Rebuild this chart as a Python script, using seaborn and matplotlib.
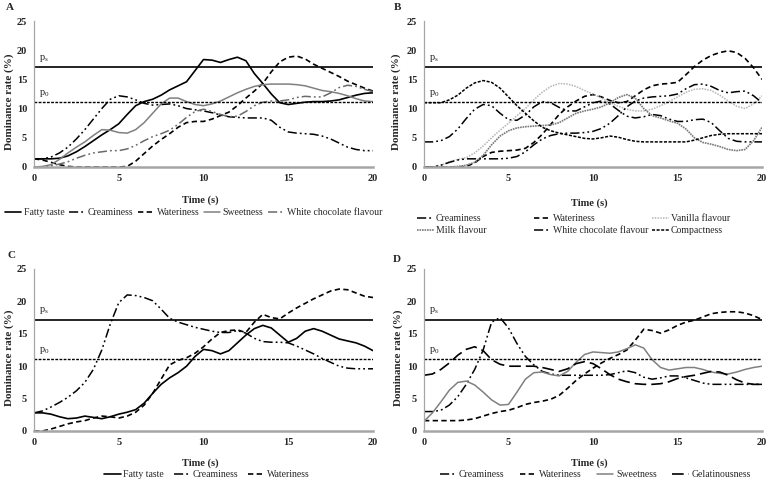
import numpy as np
import pandas as pd
import matplotlib
matplotlib.use("Agg")
import matplotlib.pyplot as plt
import seaborn as sns

# ---------------- data ----------------
TIME = [i * 0.5 for i in range(41)]
X_TICKS = [0, 5, 10, 15, 20]
Y_TICKS = [0, 5, 10, 15, 20, 25]
PS = 17.2
P0 = 11.1

# Panel A
A_FATTY = [1.4, 1.4, 1.4, 1.5, 1.9, 2.6, 3.5, 4.5, 5.5, 6.4, 7.4, 9.0, 10.5, 11.2, 11.6, 12.3, 13.2, 13.9, 14.6, 16.5,
           18.4, 18.3, 17.9, 18.4, 18.8, 18.2, 16.0, 14.3, 12.5, 11.0, 10.7, 10.9, 11.1, 11.2, 11.2, 11.3, 11.5, 11.9, 12.3, 12.6, 12.7]
A_CREAM = [1.4, 1.4, 1.7, 2.4, 3.4, 4.8, 6.4, 8.2, 10.0, 11.6, 12.2, 12.0, 11.5, 10.9, 10.6, 10.7, 10.8, 10.5, 10.0, 9.8,
           9.6, 9.3, 8.9, 8.6, 8.5, 8.4, 8.4, 8.4, 8.0, 6.8, 6.0, 5.8, 5.7, 5.6, 5.3, 4.8, 4.1, 3.4, 3.0, 2.8, 2.8]
A_WATER = [1.4, 1.2, 0.8, 0.4, 0.1, 0.0, 0.0, 0.0, 0.0, 0.0, 0.0, 0.1, 1.0, 2.3, 3.6, 4.7, 5.7, 6.8, 7.6, 7.8,
           7.8, 8.2, 8.8, 9.4, 10.5, 11.8, 13.0, 14.3, 16.3, 18.0, 18.8, 19.0, 18.5, 17.6, 16.9, 16.2, 15.5, 14.7, 14.1, 13.5, 13.0]
A_SWEET = [0.0, 0.1, 0.4, 1.3, 2.4, 3.4, 4.3, 5.4, 6.4, 6.3, 5.9, 5.8, 6.4, 7.6, 9.2, 10.8, 11.8, 11.8, 11.2, 10.7,
           10.5, 10.8, 11.3, 12.0, 12.7, 13.3, 13.8, 14.1, 14.2, 14.2, 14.2, 14.1, 13.9, 13.5, 13.1, 12.9, 12.6, 12.2, 11.7, 11.3, 11.2]
A_WHITECHOC = [0.0, 0.0, 0.2, 0.5, 0.9, 1.5, 2.0, 2.4, 2.6, 2.8, 2.8, 3.1, 3.7, 4.5, 5.2, 5.7, 6.3, 7.3, 8.5, 9.5,
               9.9, 9.5, 9.0, 8.6, 8.7, 9.5, 10.5, 11.1, 11.3, 11.3, 11.5, 11.9, 12.1, 12.0, 12.0, 12.7, 13.6, 14.0, 13.8, 13.3, 12.9]

# Panel B
B_CREAM = [4.3, 4.3, 4.5, 5.2, 6.5, 8.3, 9.9, 10.7, 10.5, 9.2, 8.1, 8.0, 8.9, 10.3, 11.2, 11.0, 10.2, 9.6, 9.6, 10.3,
           11.0, 11.3, 10.8, 9.7, 8.7, 8.4, 8.6, 9.0, 8.8, 8.2, 7.8, 7.8, 8.1, 8.2, 7.6, 6.2, 4.9, 4.4, 4.3, 4.3, 4.3]
B_WATER = [0.0, 0.0, 0.0, 0.0, 0.0, 0.1, 0.7, 1.8, 2.5, 2.7, 2.8, 2.9, 3.2, 4.2, 5.6, 7.3, 9.0, 10.3, 11.3, 12.1,
           12.4, 12.0, 11.4, 11.0, 11.2, 12.2, 13.2, 13.9, 14.2, 14.3, 14.5, 15.8, 17.2, 18.3, 19.1, 19.6, 19.9, 19.6, 18.6, 17.0, 15.0]
B_VANILLA = [0.0, 0.0, 0.3, 0.9, 1.3, 1.6, 2.4, 3.6, 5.0, 6.3, 7.5, 8.8, 10.0, 11.5, 12.8, 13.8, 14.3, 14.2, 13.8, 13.1,
             12.5, 11.8, 11.0, 10.4, 9.9, 9.6, 9.6, 9.9, 10.5, 11.2, 12.0, 12.8, 13.3, 13.4, 13.1, 12.3, 11.3, 10.4, 10.0, 10.8, 12.2]
B_MILK = [0.0, 0.0, 0.0, 0.0, 0.1, 0.3, 0.8, 2.0, 3.8, 5.3, 6.2, 6.7, 6.9, 7.0, 7.1, 7.2, 7.6, 8.4, 9.2, 9.6,
          9.9, 10.3, 11.0, 11.9, 12.4, 11.8, 10.0, 8.8, 8.4, 7.9, 7.5, 6.5, 5.0, 4.2, 3.9, 3.5, 3.0, 2.8, 3.0, 4.5, 6.8]
B_WHITECHOC = [0.0, 0.0, 0.3, 0.8, 1.2, 1.4, 1.4, 1.4, 1.4, 1.4, 1.5, 1.8, 2.6, 3.8, 4.8, 5.4, 5.7, 5.8, 5.8, 5.9,
               6.1, 6.6, 7.5, 8.8, 10.3, 11.3, 11.8, 12.0, 12.1, 12.2, 12.5, 13.4, 14.1, 14.2, 13.8, 13.1, 12.7, 12.9, 13.0, 12.2, 11.0]
B_COMPACT = [11.0, 11.0, 11.0, 11.5, 12.3, 13.5, 14.4, 14.8, 14.5, 13.5, 12.0, 10.5, 9.2, 7.9, 6.8, 6.2, 5.8, 5.5, 5.2, 4.9,
             4.8, 5.0, 5.3, 5.1, 4.7, 4.4, 4.3, 4.3, 4.3, 4.3, 4.3, 4.3, 4.6, 5.0, 5.4, 5.6, 5.7, 5.7, 5.7, 5.7, 5.7]

# Panel C
C_FATTY = [2.8, 2.8, 2.6, 2.2, 1.9, 2.0, 2.3, 2.1, 1.9, 2.2, 2.6, 2.9, 3.3, 4.3, 5.8, 7.2, 8.2, 9.0, 10.0, 11.5,
           12.6, 12.4, 11.9, 12.4, 13.6, 14.8, 15.8, 16.3, 15.9, 14.8, 13.7, 14.3, 15.4, 15.8, 15.4, 14.8, 14.2, 13.9, 13.6, 13.1, 12.4]
C_CREAM = [2.8, 3.1, 3.7, 4.4, 5.2, 6.2, 7.5, 9.5, 12.5, 16.5, 19.8, 21.0, 20.9, 20.6, 20.1, 18.8, 17.4, 16.8, 16.4, 16.0,
           15.7, 15.4, 15.2, 15.2, 15.5, 15.1, 14.3, 13.8, 13.7, 13.7, 13.6, 13.1, 12.5, 11.9, 11.2, 10.6, 10.0, 9.7, 9.6, 9.6, 9.6]
C_WATER = [0.0, 0.0, 0.3, 0.7, 1.1, 1.4, 1.6, 2.0, 2.3, 2.2, 2.0, 2.3, 2.9, 4.0, 5.8, 8.0, 10.2, 10.9, 11.3, 12.0,
           13.0, 14.2, 15.2, 15.5, 15.6, 15.2, 16.8, 18.0, 17.5, 17.3, 18.2, 19.0, 19.7, 20.4, 21.0, 21.6, 21.9, 21.8, 21.3, 20.8, 20.6]

# Panel D
D_CREAM = [3.0, 3.0, 3.2, 4.0, 5.3, 7.2, 9.5, 12.5, 16.8, 17.5, 15.9, 13.5, 11.5, 10.2, 9.2, 8.8, 8.6, 8.6, 8.6, 8.6,
           8.6, 8.6, 8.7, 9.0, 9.3, 9.0, 8.3, 8.0, 8.2, 8.5, 8.5, 8.2, 7.8, 7.4, 7.2, 7.2, 7.2, 7.2, 7.2, 7.2, 7.2]
D_WATER = [1.6, 1.6, 1.6, 1.6, 1.6, 1.7, 1.9, 2.3, 2.7, 3.0, 3.2, 3.6, 4.1, 4.4, 4.6, 4.9, 5.5, 6.6, 7.8, 8.8,
           9.7, 10.5, 11.2, 11.8, 12.5, 14.0, 15.7, 15.5, 15.1, 15.6, 16.3, 16.8, 17.1, 17.6, 18.1, 18.3, 18.4, 18.4, 18.2, 17.8, 17.2]
D_SWEET = [1.5, 2.8, 4.5, 6.3, 7.5, 7.7, 7.1, 6.0, 4.8, 4.0, 4.1, 6.0, 8.0, 9.0, 9.1, 8.7, 8.5, 9.2, 10.6, 11.8,
           12.2, 12.1, 12.0, 12.2, 12.7, 13.3, 12.8, 11.0, 9.8, 9.4, 9.6, 9.8, 9.8, 9.5, 9.1, 8.9, 8.8, 9.1, 9.5, 9.8, 10.0]
D_GELAT = [8.6, 8.8, 9.5, 10.5, 11.7, 12.6, 13.0, 12.4, 11.0, 10.3, 10.0, 10.0, 10.0, 10.0, 9.8, 9.5, 9.2, 9.6, 10.4, 10.7,
           10.4, 9.6, 8.7, 8.0, 7.6, 7.3, 7.2, 7.2, 7.3, 7.6, 8.1, 8.4, 8.6, 8.9, 9.2, 9.1, 8.6, 7.9, 7.4, 7.2, 7.2]

# ---------------- styles ----------------
STYLES = {
    "solid": dict(color="black", linewidth=1.2, linestyle="-"),
    "dashdotdot": dict(color="black", linewidth=1.1, linestyle=(0, (6, 2, 1.2, 2, 1.2, 2))),
    "dashdotdot_gray": dict(color="#6a6a6a", linewidth=1.1, linestyle=(0, (6, 2, 1.2, 2, 1.2, 2))),
    "dashed": dict(color="black", linewidth=1.2, linestyle=(0, (3.2, 2))),
    "gray": dict(color="#808080", linewidth=1.1, linestyle="-"),
    "vanilla": dict(color="#b5b5b5", linewidth=1.1, linestyle=(0, (1, 0.8))),
    "milk": dict(color="#7a7a7a", linewidth=1.2, linestyle=(0, (1, 0.5))),
    "compact": dict(color="black", linewidth=1.1, linestyle=(0, (2, 1))),
    "gelat": dict(color="black", linewidth=1.2, linestyle=(0, (7, 3))),
}

sns.set_theme(style="white")
plt.rcParams["font.family"] = ["Liberation Serif", "DejaVu Serif"]
plt.rcParams["mathtext.fontset"] = "custom"
plt.rcParams["mathtext.rm"] = "Liberation Serif"

fig = plt.figure(figsize=(7.7, 4.82), dpi=100)
W, H = 770.0, 482.0


def make_ax(x0, x1, ytop, ybot):
    return fig.add_axes([x0 / W, 1 - ybot / H, (x1 - x0) / W, (ybot - ytop) / H])


axA = make_ax(34, 373, 21, 167)
axB = make_ax(424, 762, 21, 167)
axC = make_ax(34, 373, 269, 431)
axD = make_ax(424, 762, 269, 431)


def draw(ax, series, xlabel_y, ylabel_x):
    for label, vals, key in series:
        sns.lineplot(x=TIME, y=vals, ax=ax, label=label, **STYLES[key])
    ax.axhline(PS, color="black", linewidth=1.2)
    ax.axhline(P0, color="black", linewidth=1.0, linestyle=(0, (2, 1)))
    ax.text(0.3, PS + 0.5, r"p$_{\mathregular{s}}$", fontsize=7.5, va="bottom", ha="left")
    ax.text(0.3, P0 + 0.5, r"p$_{\mathregular{0}}$", fontsize=7.5, va="bottom", ha="left")
    ax.set_xlim(0, 20)
    ax.set_ylim(0, 25)
    ax.set_xticks(X_TICKS)
    ax.set_yticks(Y_TICKS)
    ax.tick_params(axis="both", length=0, labelsize=7.5, pad=5)
    for t in ax.get_xticklabels() + ax.get_yticklabels():
        t.set_fontweight("bold")
    for s in ["top", "right"]:
        ax.spines[s].set_visible(False)
    ax.spines["left"].set_color("#a6a6a6")
    ax.spines["left"].set_linewidth(0.9)
    ax.spines["bottom"].set_color("#a6a6a6")
    ax.spines["bottom"].set_linewidth(1.8)
    ax.set_xlabel("Time (s)", fontsize=7.5, fontweight="bold")
    ax.xaxis.set_label_coords(0.49, xlabel_y)
    ax.set_ylabel("Dominance rate (%)", fontsize=8, fontweight="bold")
    ax.yaxis.set_label_coords(ylabel_x, 0.45)
    ax.grid(False)


draw(axA, [("Fatty taste", A_FATTY, "solid"),
           ("Creaminess", A_CREAM, "dashdotdot"),
           ("Wateriness", A_WATER, "dashed"),
           ("Sweetness", A_SWEET, "gray"),
           ("White chocolate flavour", A_WHITECHOC, "dashdotdot_gray")], -0.192, -0.058)
axA.legend(loc="center", bbox_to_anchor=(0.47, -0.315), ncol=5, frameon=False, fontsize=7,
           handlelength=1.7, handletextpad=0.25, columnspacing=0.45, borderaxespad=0)

draw(axB, [("Creaminess", B_CREAM, "dashdotdot"),
           ("Wateriness", B_WATER, "dashed"),
           ("Vanilla flavour", B_VANILLA, "vanilla"),
           ("Milk flavour", B_MILK, "milk"),
           ("White chocolate flavour", B_WHITECHOC, "dashdotdot"),
           ("Compactness", B_COMPACT, "compact")], -0.212, -0.068)
hB, lB = axB.get_legend_handles_labels()
axB.get_legend().remove()
col_x = [417, 534, 652]
legs = []
for ci in range(3):
    idx = [ci, ci + 3]
    lg = axB.legend([hB[i] for i in idx], [lB[i] for i in idx], loc="center left",
                    bbox_to_anchor=((col_x[ci] - 424) / 338.0, -0.394), ncol=1, frameon=False,
                    fontsize=7, handlelength=1.7, handletextpad=0.25, labelspacing=0.3,
                    borderaxespad=0, borderpad=0)
    legs.append(lg)
for lg in legs[:-1]:
    axB.add_artist(lg)

draw(axC, [("Fatty taste", C_FATTY, "solid"),
           ("Creaminess", C_CREAM, "dashdotdot"),
           ("Wateriness", C_WATER, "dashed")], -0.167, -0.058)
axC.legend(loc="center", bbox_to_anchor=(0.51, -0.268), ncol=3, frameon=False, fontsize=7,
           handlelength=1.7, handletextpad=0.25, columnspacing=1.0, borderaxespad=0)

draw(axD, [("Creaminess", D_CREAM, "dashdotdot"),
           ("Wateriness", D_WATER, "dashed"),
           ("Sweetness", D_SWEET, "gray"),
           ("Gelatinousness", D_GELAT, "gelat")], -0.167, -0.062)
axD.legend(loc="center", bbox_to_anchor=(0.506, -0.268), ncol=4, frameon=False, fontsize=7,
           handlelength=1.7, handletextpad=0.25, columnspacing=1.6, borderaxespad=0)

for letter, (px, py) in {"A": (10, 8), "B": (397, 7), "C": (12, 255), "D": (397, 260)}.items():
    fig.text(px / W, 1 - py / H, letter, fontsize=8, fontweight="bold", ha="center", va="center")

fig.savefig("out.png", dpi=100)
